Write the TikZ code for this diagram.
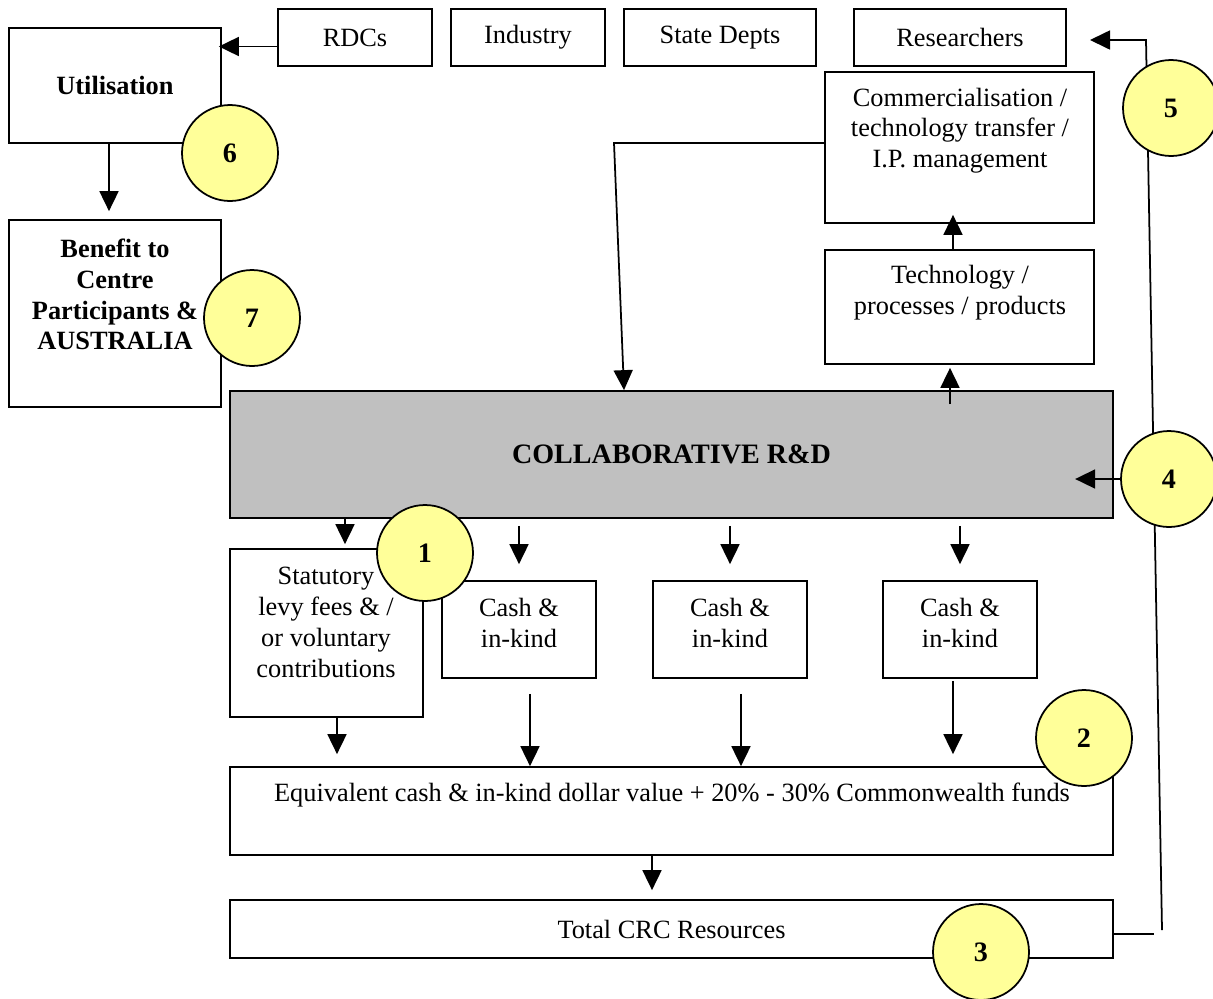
\documentclass[tikz,border=0pt]{standalone}
\usepackage{fontspec}
\setmainfont{Liberation Serif}
\usetikzlibrary{arrows.meta}
\definecolor{numfill}{RGB}{255,255,153}
\definecolor{rdgrey}{RGB}{192,192,192}

\begin{document}
\begin{tikzpicture}[x=0.02cm,y=-0.02cm,
  box/.style={draw,line width=1pt,inner sep=0pt,align=center,font=\fontsize{15}{17.5}\selectfont},
  txt/.style={inner sep=0pt,align=center,font=\fontsize{15}{17.5}\selectfont},
  num/.style={circle,draw,line width=1pt,fill=numfill,minimum size=1.92cm,font=\fontsize{16}{18}\selectfont\bfseries},
  arr/.style={line width=1pt,-{Triangle[length=0.4cm,width=0.38cm]}}]
\clip (0,0) rectangle (1213,998);

% top row
\node[box,minimum width=3.08cm,minimum height=1.14cm] (rdc) at (355,37.5) {RDCs};
\node[box,minimum width=3.08cm,minimum height=1.14cm] (ind) at (528,37.5) {Industry};
\node[box,minimum width=3.84cm,minimum height=1.14cm] (state) at (720,37.5) {State Depts};
\node[box,minimum width=4.24cm,minimum height=1.14cm] (res) at (960,37.5) {Researchers};

% left column
\node[box,minimum width=4.24cm,minimum height=2.30cm] (util) at (115,85.5) {\bfseries Utilisation};
\node[box,minimum width=4.24cm,minimum height=3.74cm] (benefit) at (115,313.5) {};
\node[txt,font=\fontsize{15}{17.5}\selectfont\bfseries] (benefittxt) at (115,294.5) {Benefit to\\Centre\\Participants \&\\AUSTRALIA};

% right column
\node[box,minimum width=5.38cm,minimum height=3.02cm] (comm) at (959.5,147.5) {};
\node[txt] (commtxt) at (960,130.5) {Commercialisation /\\technology transfer /\\I.P. management};
\node[box,minimum width=5.38cm,minimum height=2.28cm] (tech) at (959.5,307) {};
\node[txt] (techtxt) at (960,292.5) {Technology /\\processes / products};

\node[box,fill=rdgrey,minimum width=17.66cm,minimum height=2.54cm,font=\fontsize{16}{19}\selectfont\bfseries] (rd) at (671.5,454.5) {COLLABORATIVE R\&D};

% contributions
\node[box,minimum width=3.86cm,minimum height=3.36cm] (stat) at (326.5,633) {};
\node[txt] (stattxt) at (326,622.5) {Statutory\\levy fees \& /\\or voluntary\\contributions};
\node[box,minimum width=3.08cm,minimum height=1.94cm] (cash1) at (519,629.5) {};
\node[txt] (cash1txt) at (519,623) {Cash \&\\in-kind};
\node[box,minimum width=3.08cm,minimum height=1.94cm] (cash2) at (730,629.5) {};
\node[txt] (cash2txt) at (730,623) {Cash \&\\in-kind};
\node[box,minimum width=3.08cm,minimum height=1.94cm] (cash3) at (960,629.5) {};
\node[txt] (cash3txt) at (960,623) {Cash \&\\in-kind};

\node[box,minimum width=17.66cm,minimum height=1.76cm] (equiv) at (671.5,811) {};
\node[txt] (equivtxt) at (672,795) {Equivalent cash \& in-kind dollar value + 20\% - 30\% Commonwealth funds};
\node[box,minimum width=17.66cm,minimum height=1.16cm] (total) at (671.5,929) {Total CRC Resources};

\coordinate (loopbot) at (1162,930);
\coordinate (looptop) at (1146,40);

% arrows
\draw[arr,shorten >=-0.06cm] ([yshift=-0.18cm]rdc.west) -- ([yshift=-0.18cm]rdc.west -| util.east);
\draw[arr,shorten >=0.16cm] ([xshift=-0.12cm]util.south) -- ([xshift=-0.12cm]benefit.north);
\draw[arr] ([xshift=-0.13cm]tech.north) -- ([xshift=-0.13cm,yshift=0.18cm]comm.south);
\draw[arr] ([xshift=-0.19cm,yshift=-0.28cm]tech.south |- rd.north) -- ([xshift=-0.19cm,yshift=-0.06cm]tech.south);
\draw[arr] ([yshift=0.09cm]comm.west) -- (614,143) -- ([xshift=-0.95cm]rd.north);
\draw[line width=1pt] ([yshift=-0.1cm]total.east) -- ++(40,0);
\draw[arr] (loopbot) -- (looptop) -- ++(-56,0);

\draw[arr,shorten >=0.08cm] ([xshift=0.37cm]stat.north |- rd.south) -- ([xshift=0.37cm]stat.north);
\draw[arr,shorten <=0.14cm,shorten >=0.32cm] (cash1.north |- rd.south) -- (cash1.north);
\draw[arr,shorten <=0.14cm,shorten >=0.32cm] (cash2.north |- rd.south) -- (cash2.north);
\draw[arr,shorten <=0.14cm,shorten >=0.32cm] (cash3.north |- rd.south) -- (cash3.north);

\draw[arr,shorten >=0.24cm] ([xshift=0.21cm]stat.south) -- ([xshift=0.21cm]stat.south |- equiv.north);
\draw[arr,shorten <=0.3cm] ([xshift=0.22cm]cash1.south) -- ([xshift=0.22cm]cash1.south |- equiv.north);
\draw[arr,shorten <=0.3cm] ([xshift=0.22cm]cash2.south) -- ([xshift=0.22cm]cash2.south |- equiv.north);
\draw[arr,shorten <=0.04cm,shorten >=0.24cm] ([xshift=-0.14cm]cash3.south) -- ([xshift=-0.14cm]cash3.south |- equiv.north);
\draw[arr,shorten >=0.18cm] ([xshift=-0.39cm]equiv.south) -- ([xshift=-0.39cm]total.north);

% numbered circles
\node[num] (n1) at (425,553) {1};
\node[num] (n2) at (1084,738) {2};
\node[num] (n3) at (981,952) {3};
\node[num] (n4) at (1169,479) {4};
\node[num] (n5) at (1171,108) {5};
\node[num] (n6) at (230,153) {6};
\node[num] (n7) at (252,318) {7};
\draw[arr] (n4.west) -- ++(-45,0);
\end{tikzpicture}
\end{document}
